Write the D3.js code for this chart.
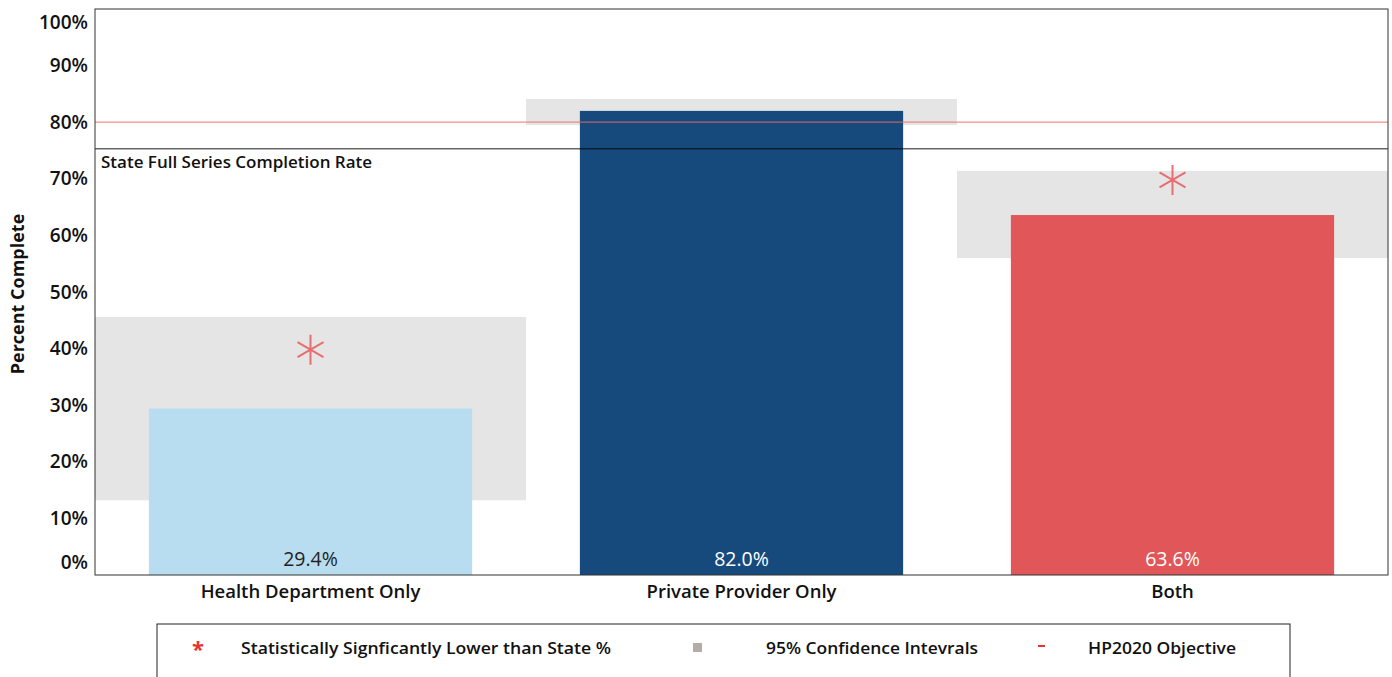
<!DOCTYPE html>
<html>
<head>
<meta charset="utf-8">
<script src="https://cdn.jsdelivr.net/npm/d3@7/dist/d3.min.js"></script>
<style>
  html, body { margin: 0; padding: 0; background: #fff; }
  svg { display: block; }
  text { font-family: "Open Sans", "DejaVu Sans", sans-serif; }
</style>
</head>
<body>
<svg id="chart" width="1392" height="677"></svg>
<script>
// Full series completion by provider type
const categories = ["Health Department Only", "Private Provider Only", "Both"];
const completion = [29.4, 82.0, 63.6];
const ciLower = [13.2, 79.5, 56.0];
const ciUpper = [45.6, 84.1, 71.4];
const significantLower = [true, false, true];
const asteriskAt = [39.8, null, 69.8];
const barColors = ["#b9ddf0", "#174a7c", "#e15759"];
const labelColors = ["#222222", "#ffffff", "#ffffff"];
const stateRate = 75.3;
const hp2020Objective = 80;
const yTicks = [0, 10, 20, 30, 40, 50, 60, 70, 80, 90, 100];
const legendItems = [
  { kind: "asterisk", label: "Statistically Signficantly Lower than State %" },
  { kind: "square", label: "95% Confidence Intevrals" },
  { kind: "dash", label: "HP2020 Objective" }
];

const svg = d3.select("#chart");
const plot = { left: 95, right: 1388, top: 9, bottom: 575 };

const x = d3.scaleBand().domain(categories).range([plot.left, plot.right]).paddingInner(0).paddingOuter(0);
const y = d3.scaleLinear().domain([0, 100]).range([plot.bottom, plot.top]);
const barWidth = x.bandwidth() * 0.75;

const rows = categories.map((c, i) => ({
  cat: c, value: completion[i], lo: ciLower[i], hi: ciUpper[i],
  sig: significantLower[i], star: asteriskAt[i], color: barColors[i], labelColor: labelColors[i]
}));

// confidence interval bands span the whole category
svg.append("g").selectAll("rect").data(rows).join("rect")
  .attr("x", d => x(d.cat))
  .attr("width", x.bandwidth())
  .attr("y", d => y(d.hi))
  .attr("height", d => y(d.lo) - y(d.hi))
  .attr("fill", "#e5e5e5");

// bars
svg.append("g").selectAll("rect").data(rows).join("rect")
  .attr("x", d => x(d.cat) + (x.bandwidth() - barWidth) / 2)
  .attr("width", barWidth)
  .attr("y", d => y(d.value))
  .attr("height", d => y(0) - y(d.value))
  .attr("fill", d => d.color);

// HP2020 objective line
svg.append("line")
  .attr("x1", plot.left).attr("x2", plot.right)
  .attr("y1", y(hp2020Objective)).attr("y2", y(hp2020Objective))
  .attr("stroke", "#ee6b60").attr("stroke-opacity", 0.75).attr("stroke-width", 1.2);

// state reference line
svg.append("line")
  .attr("x1", plot.left).attr("x2", plot.right)
  .attr("y1", y(stateRate)).attr("y2", y(stateRate))
  .attr("stroke", "#000").attr("stroke-opacity", 0.6).attr("stroke-width", 1.5);

svg.append("text")
  .attr("x", plot.left + 6).attr("y", y(stateRate) + 19)
  .attr("font-size", 17).attr("font-weight", 600).attr("fill", "#111")
  .text("State Full Series Completion Rate");

// asterisks for significance
function asteriskPath(cx, cy, r) {
  let p = "";
  for (let k = 0; k < 3; k++) {
    const a = Math.PI / 2 + k * Math.PI / 3;
    const dx = r * Math.cos(a), dy = r * Math.sin(a);
    p += `M${cx - dx},${cy - dy}L${cx + dx},${cy + dy}`;
  }
  return p;
}
svg.append("g").selectAll("path").data(rows.filter(d => d.sig)).join("path")
  .attr("d", d => asteriskPath(x(d.cat) + x.bandwidth() / 2, y(d.star), 15))
  .attr("stroke", "#e8585c").attr("stroke-opacity", 0.85).attr("stroke-width", 2).attr("fill", "none");

// value labels
svg.append("g").selectAll("text").data(rows).join("text")
  .attr("x", d => x(d.cat) + x.bandwidth() / 2)
  .attr("y", plot.bottom - 9)
  .attr("text-anchor", "middle")
  .attr("font-size", 19.5)
  .attr("fill", d => d.labelColor)
  .text(d => d.value.toFixed(1) + "%");

// frame
svg.append("rect")
  .attr("x", plot.left).attr("y", plot.top)
  .attr("width", plot.right - plot.left).attr("height", plot.bottom - plot.top)
  .attr("fill", "none").attr("stroke", "#333").attr("stroke-width", 1);

// y axis
const yAxis = d3.axisLeft(y).tickValues(yTicks).tickSize(0).tickPadding(7).tickFormat(d => d + "%");
const gy = svg.append("g").attr("transform", `translate(${plot.left},0)`).call(yAxis);
gy.select(".domain").remove();
gy.selectAll("text")
  .attr("font-size", 19).attr("font-weight", 600).attr("fill", "#111")
  .attr("font-family", "'Open Sans', sans-serif")
  .attr("dy", d => d === 100 ? "1.0em" : d === 0 ? "-0.33em" : "0.32em");

svg.append("text")
  .attr("transform", `translate(24,${(plot.top + plot.bottom) / 2 + 2}) rotate(-90)`)
  .attr("text-anchor", "middle")
  .attr("font-size", 18).attr("font-weight", "bold").attr("fill", "#111")
  .text("Percent Complete");

// x axis
const xAxis = d3.axisBottom(x).tickSize(0).tickPadding(10);
const gx = svg.append("g").attr("transform", `translate(0,${plot.bottom})`).call(xAxis);
gx.select(".domain").remove();
gx.selectAll("text").attr("font-size", 18.5).attr("font-weight", 600).attr("fill", "#111")
  .attr("font-family", "'Open Sans', sans-serif");

// legend
const legend = svg.append("g");
legend.append("rect").attr("x", 157).attr("y", 624).attr("width", 1133).attr("height", 60)
  .attr("fill", "#fff").attr("stroke", "#222").attr("stroke-width", 1);
const legendX = [198, 697, 1041];
const legendTextX = [241, 766, 1088];
const legendTextLen = [370, 212, 148];
const ly = 648;
legendItems.forEach((item, i) => {
  if (item.kind === "asterisk") {
    legend.append("text").attr("x", legendX[i]).attr("y", ly + 9).attr("text-anchor", "middle")
      .attr("font-size", 22).attr("font-weight", "bold").attr("fill", "#e8342f").text("*");
  } else if (item.kind === "square") {
    legend.append("rect").attr("x", legendX[i] - 4).attr("y", ly - 5).attr("width", 9).attr("height", 9)
      .attr("fill", "#b3aca7");
  } else {
    legend.append("rect").attr("x", legendX[i] - 3).attr("y", ly - 3).attr("width", 7).attr("height", 2)
      .attr("fill", "#e8342f");
  }
  legend.append("text").attr("x", legendTextX[i]).attr("y", ly + 6)
    .attr("font-size", 17).attr("font-weight", 600).attr("fill", "#111")
    .attr("textLength", legendTextLen[i]).attr("lengthAdjust", "spacingAndGlyphs")
    .text(item.label);
});
</script>
</body>
</html>
